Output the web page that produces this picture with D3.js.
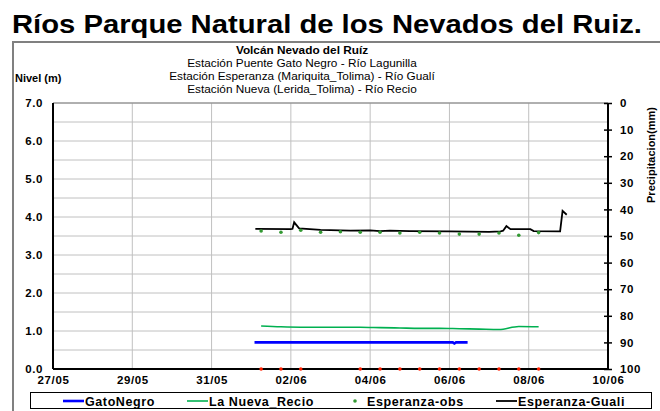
<!DOCTYPE html>
<html><head><meta charset="utf-8">
<script src="https://cdn.jsdelivr.net/npm/d3@7"></script>
<style>
body{margin:0;background:#fff;}
svg{display:block;font-family:"Liberation Sans",Arial,sans-serif;}
</style></head>
<body><svg id="c" width="660" height="411"></svg>
<script>
// ---------- DATA ----------
const YEAR = "2012";
const xTickLabels = ["27/05","29/05","31/05","02/06","04/06","06/06","08/06","10/06"];
const leftTicks = [0,1,2,3,4,5,6,7];
const rightTicks = [0,10,20,30,40,50,60,70,80,90,100];

// Esperanza-Guali (black line)
const gualiTimes = ["01/06 02:30","02/06 00:00","02/06 01:00","02/06 02:00","02/06 05:00","02/06 18:00","03/06 12:00","04/06 00:00","04/06 06:00","04/06 12:00","05/06 00:00","06/06 00:00","07/06 00:00","07/06 07:00","07/06 08:30","07/06 10:30","07/06 13:00","08/06 01:00","08/06 03:00","08/06 19:00","08/06 20:30","08/06 23:00"];
const gualiValues = [3.69,3.68,3.69,3.86,3.70,3.66,3.64,3.65,3.63,3.64,3.63,3.62,3.61,3.62,3.64,3.76,3.68,3.68,3.63,3.62,4.16,4.06];

// Esperanza-obs (green dots) and precipitation (red dots) – every 12 h
const obsTimes = ["01/06 06:00","01/06 18:00","02/06 06:00","02/06 18:00","03/06 06:00","03/06 18:00","04/06 06:00","04/06 18:00","05/06 06:00","05/06 18:00","06/06 06:00","06/06 18:00","07/06 06:00","07/06 18:00","08/06 06:00"];
const obsValues = [3.63,3.60,3.65,3.60,3.61,3.60,3.60,3.58,3.60,3.58,3.55,3.55,3.58,3.52,3.59];
const precipTimes = ["01/06 06:00","01/06 18:00","02/06 06:00","03/06 18:00","04/06 06:00","04/06 18:00","05/06 06:00","05/06 18:00","06/06 06:00","06/06 18:00","07/06 06:00","07/06 18:00","08/06 06:00"];
const precipValues = [0,0,0,0,0,0,0,0,0,0,0,0,0];

// La Nueva_Recio (green line)
const recioTimes = obsTimes;
const recioValues = [1.13,1.11,1.10,1.10,1.10,1.10,1.09,1.08,1.07,1.07,1.06,1.05,1.04,1.12,1.11];

// GatoNegro (blue line)
const gatoTimes = ["01/06 02:00","02/06 00:00","03/06 00:00","04/06 00:00","05/06 00:00","06/06 00:00","06/06 02:00","06/06 03:00","06/06 04:00","06/06 11:00"];
const gatoValues = [0.70,0.70,0.70,0.70,0.70,0.70,0.70,0.67,0.70,0.70];

// ---------- CHART ----------
const parse = d3.timeParse("%d/%m/%Y %H:%M");
const P = s => parse(s.replace(" ", "/" + YEAR + " "));
const svg = d3.select("#c");
const L = 53, R = 608, T = 103, B = 369;

const x = d3.scaleTime().domain([P("27/05 00:00"), P("10/06 00:00")]).range([L, R]);
const y = d3.scaleLinear().domain([0, 7]).range([B, T]);
const y2 = d3.scaleLinear().domain([0, 100]).range([T, B]);

// title
svg.append("text").attr("x", 12).attr("y", 33).attr("font-size", 26).attr("font-weight", "bold")
  .attr("textLength", 630).attr("lengthAdjust", "spacingAndGlyphs")
  .text("Ríos Parque Natural de los Nevados del Ruiz.");

// chart frame
svg.append("path").attr("d", `M13,411 V42 H660`).attr("fill", "none").attr("stroke", "#808080").attr("stroke-width", 2);

// subtitles
const sub = [["Volcán Nevado del Ruíz", true, 54],["Estación Puente Gato Negro - Río Lagunilla", false, 67],["Estación Esperanza (Mariquita_Tolima) - Río Gualí", false, 80],["Estación Nueva (Lerida_Tolima) - Río Recio", false, 93]];
sub.forEach(([t, b, yy]) => svg.append("text").attr("x", 302).attr("y", yy).attr("text-anchor", "middle")
  .attr("font-size", 11.8).attr("font-weight", b ? "bold" : "normal").text(t));

svg.append("text").attr("x", 15).attr("y", 82).attr("font-size", 11).attr("font-weight", "bold").text("Nivel (m)");

// gridlines
const g = svg.append("g");
d3.range(0.5, 7.01, 0.5).forEach(v => g.append("line").attr("x1", L).attr("x2", R).attr("y1", y(v)).attr("y2", y(v))
  .attr("stroke", "#c0c0c0").attr("stroke-width", 1));
xTickLabels.slice(1, -1).forEach(s => g.append("line").attr("x1", x(P(s + " 00:00"))).attr("x2", x(P(s + " 00:00")))
  .attr("y1", T).attr("y2", B).attr("stroke", "#c0c0c0").attr("stroke-width", 1));
g.append("line").attr("x1", L).attr("x2", R).attr("y1", T).attr("y2", T).attr("stroke", "#808080");

// axes
const axL = svg.append("g").attr("transform", `translate(${L},0)`)
  .call(d3.axisLeft(y).tickValues(leftTicks).tickFormat(d3.format(".1f")).tickSize(0).tickPadding(10));
const axB = svg.append("g").attr("transform", `translate(0,${B})`)
  .call(d3.axisBottom(x).tickValues(xTickLabels.map(s => P(s + " 00:00"))).tickFormat(d3.timeFormat("%d/%m")).tickSize(0).tickPadding(7));
const axR = svg.append("g").attr("transform", `translate(${R},0)`)
  .call(d3.axisRight(y2).tickValues(rightTicks).tickSize(4).tickPadding(8));
axR.selectAll(".tick line").attr("x1", -4);
[axL, axB, axR].forEach(a => {
  a.select(".domain").attr("stroke", "#000").attr("stroke-width", 2);
  a.selectAll("text").attr("font-size", 11.5).attr("font-weight", "bold").attr("fill", "#000")
    .attr("font-family", "'Liberation Sans',Arial,sans-serif").attr("letter-spacing", 0.6);
  a.selectAll(".tick line").attr("stroke", "#000").attr("stroke-width", 1.5);
});
axR.select(".domain").attr("d", `M0,${T}V${B}`);
axL.select(".domain").attr("d", `M0,${T}V${B}`);
axB.select(".domain").attr("d", `M${L},0H${R}`);

svg.append("text").attr("transform", "translate(655,155) rotate(-90)").attr("text-anchor", "middle")
  .attr("font-size", 11).attr("font-weight", "bold").text("Precipitacion(mm)");

// series
const line = d3.line().x(d => x(d[0])).y(d => y(d[1]));
const zip = (ts, vs) => ts.map((t, i) => [P(t), vs[i]]);

svg.append("path").datum(zip(recioTimes, recioValues)).attr("fill", "none").attr("stroke", "#00b050").attr("stroke-width", 1.6)
  .attr("d", line.curve(d3.curveMonotoneX));
svg.append("path").datum(zip(gatoTimes, gatoValues)).attr("fill", "none").attr("stroke", "#0000ff").attr("stroke-width", 2.6)
  .attr("d", line.curve(d3.curveLinear));
svg.append("path").datum(zip(gualiTimes, gualiValues)).attr("fill", "none").attr("stroke", "#000").attr("stroke-width", 1.8)
  .attr("d", line.curve(d3.curveLinear));
svg.append("g").selectAll("circle").data(zip(obsTimes, obsValues)).join("circle")
  .attr("cx", d => x(d[0])).attr("cy", d => y(d[1])).attr("r", 1.8).attr("fill", "#339933");
svg.append("g").selectAll("circle").data(zip(precipTimes, precipValues)).join("circle")
  .attr("cx", d => x(d[0])).attr("cy", d => y(d[1])).attr("r", 1.8).attr("fill", "#ff2000");

// legend
const lg = svg.append("g");
lg.append("rect").attr("x", 30.5).attr("y", 392.5).attr("width", 621).attr("height", 16).attr("fill", "#fff").attr("stroke", "#000").attr("stroke-width", 1);
const ly = 401;
const items = [
  {t: "GatoNegro", x: 63, type: "line", c: "#0000ff", w: 2.6},
  {t: "La Nueva_Recio", x: 187, type: "line", c: "#00b050", w: 1.6},
  {t: "Esperanza-obs", x: 345, type: "dot", c: "#339933"},
  {t: "Esperanza-Guali", x: 496, type: "line", c: "#000", w: 1.8}
];
items.forEach(it => {
  if (it.type === "line") lg.append("line").attr("x1", it.x).attr("x2", it.x + 21).attr("y1", ly).attr("y2", ly).attr("stroke", it.c).attr("stroke-width", it.w);
  else lg.append("circle").attr("cx", it.x + 10).attr("cy", ly).attr("r", 1.8).attr("fill", it.c);
  lg.append("text").attr("x", it.x + 22).attr("y", ly + 4.5).attr("font-size", 12.5).attr("font-weight", "bold").attr("letter-spacing", 0.6).text(it.t);
});
</script></body></html>
